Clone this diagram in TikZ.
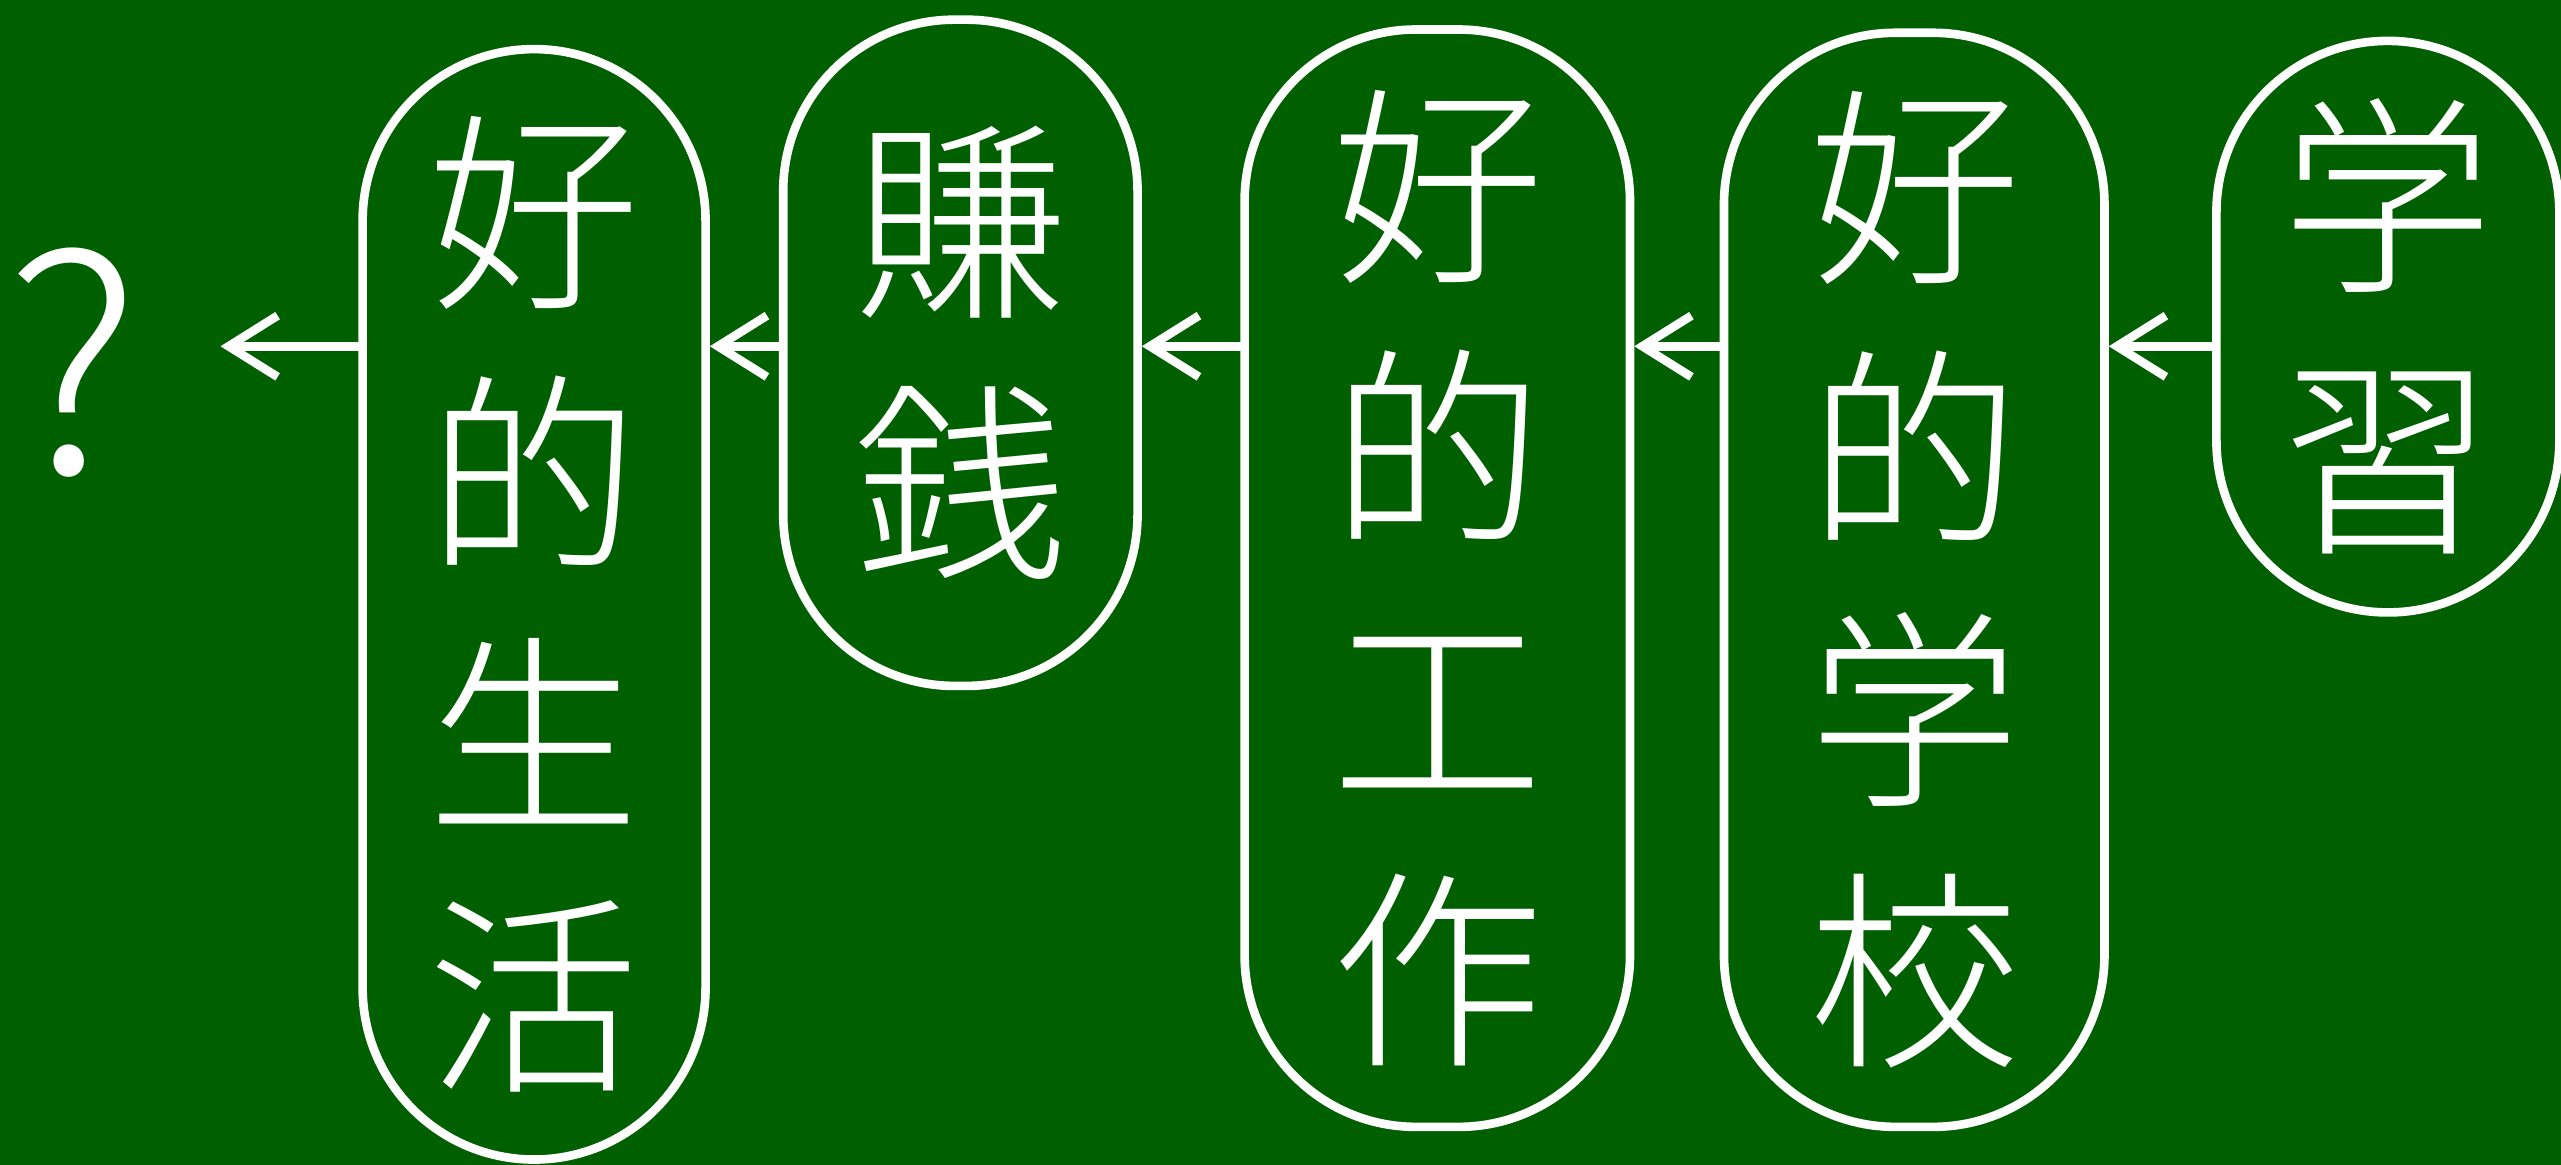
\documentclass[tikz,border=0pt]{standalone}
\usepackage{fontspec}
\IfFontExistsTF{Noto Sans CJK JP Light}
  {\newfontfamily\cjk{Noto Sans CJK JP Light}}
  {\newfontfamily\cjk{Noto Sans CJK JP}}
\usetikzlibrary{arrows.meta,positioning}
\definecolor{board}{RGB}{0,96,0}

\begin{document}
\begin{tikzpicture}[x=0.02cm,y=-0.02cm,
        pill/.style={draw=white, line width=3pt, rounded corners=2.1cm, inner sep=0pt},
        word/.style={text=white, font=\cjk\fontsize{74}{91}\selectfont, align=center},
        flow/.style={draw=white, line width=3pt, line cap=round, -{Straight Barb[length=0.6cm,width=0.75cm]}}]
            \fill[board] (0,0) rectangle (1568,713);
            \useasboundingbox (0,0) rectangle (1568,713);
            % steps, right to left
            \node[pill, word, minimum width=4.2cm, minimum height=7cm] (xuexi) at (1462,200) {学\\習};
            \node[pill, word, minimum width=4.66cm, minimum height=13.4cm] (school) at (1172,355) {好\\的\\学\\校};
            \node[pill, word, minimum width=4.72cm, minimum height=13.44cm] (work) at (880,354) {好\\的\\工\\作};
            \node[pill, word, minimum width=4.34cm, minimum height=8.16cm] (money) at (588,216) {賺\\銭};
            \node[pill, word, minimum width=4.2cm, minimum height=13.6cm] (life) at (327,370) {好\\的\\生\\活};
            \node[word, font=\cjk\fontsize{104}{104}\selectfont] (quest) at (45,222) {?};
            \coordinate (row) at (0,212);
            \coordinate (tail) at (135,212);
            \draw[flow] (xuexi.west |- row) -- (school.east |- row);
            \draw[flow] (school.west |- row) -- (work.east |- row);
            \draw[flow] (work.west |- row) -- (money.east |- row);
            \draw[flow] (money.west |- row) -- (life.east |- row);
            \draw[flow] (life.west |- row) -- (tail);
        \end{tikzpicture}
\end{document}
